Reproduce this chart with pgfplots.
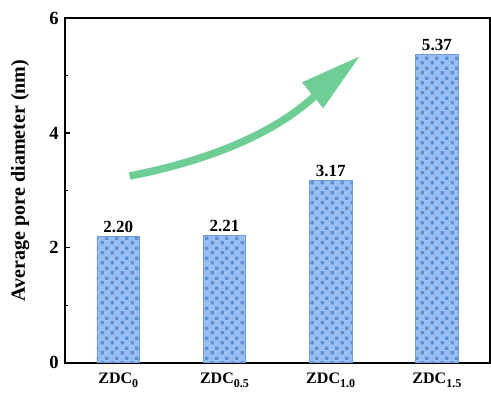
\documentclass[border=0pt]{standalone}
\usepackage{pgfplots}
\pgfplotsset{compat=1.18}
\usepackage{fontspec}
\setmainfont{Liberation Serif}
\usetikzlibrary{patterns}

\definecolor{barfill}{RGB}{152,190,242}
\definecolor{barsq}{RGB}{92,146,212}
\definecolor{baredge}{RGB}{110,155,220}
\definecolor{arrowgreen}{RGB}{110,206,150}

% lowered subscript for the sample names
\newcommand{\sub}[1]{\raisebox{-3.5pt}{\fontsize{12}{12}\selectfont #1}}

% offset grid of small squares laid over the bar fill
\pgfdeclarepatternformonly{squaregrid}{\pgfpointorigin}{\pgfqpoint{10pt}{10pt}}{\pgfqpoint{10pt}{10pt}}{%
  \pgfpathrectangle{\pgfqpoint{0.6pt}{0.6pt}}{\pgfqpoint{3.6pt}{3.6pt}}%
  \pgfpathrectangle{\pgfqpoint{5.6pt}{5.6pt}}{\pgfqpoint{3.6pt}{3.6pt}}%
  \pgfusepath{fill}}

\begin{document}
\begin{tikzpicture}
\begin{axis}[
  scale only axis,
  width=424pt, height=344pt,
  xmin=-0.5, xmax=3.5,
  ymin=0, ymax=6,
  axis line style={line width=2.2pt},
  xtick={0,1,2,3},
  xticklabels={ZDC\sub{0},ZDC\sub{0.5},ZDC\sub{1.0},ZDC\sub{1.5}},
  xtick style={draw=none},
  ytick={0,2,4,6},
  minor ytick={1,3,5},
  ytick pos=left,
  xtick pos=bottom,
  tick align=inside,
  major tick length=5pt,
  minor tick length=3pt,
  every tick/.style={black, line width=1.2pt},
  /pgf/number format/assume math mode=true,
  yticklabel style={font=\fontsize{18.5}{20}\selectfont\bfseries, xshift=-3pt},
  xticklabel style={font=\fontsize{16}{18}\selectfont\bfseries, yshift=-2pt, anchor=north},
  ylabel={Average pore diameter (nm)},
  % shifts act in the rotated frame: xshift moves up, yshift moves left
  every axis y label/.style={at={(axis description cs:0,0.5)}, rotate=90, anchor=center,
    yshift=45pt, xshift=10pt, font=\fontsize{20}{22}\selectfont\bfseries},
  ybar, bar width=0.4,
  nodes near coords,
  nodes near coords style={font=\fontsize{17}{19}\selectfont\bfseries, /pgf/number format/.cd, fixed, fixed zerofill, precision=2},
  clip=false,
]
\addplot[draw=baredge, line width=0.6pt, fill=barfill,
  postaction={pattern=squaregrid, pattern color=barsq}]
  coordinates {(0,2.20) (1,2.21) (2,3.17) (3,5.37)};

% curved trend arrow
\draw[arrowgreen, line width=7.5pt]
  (axis cs:0.107,3.25) .. controls (axis cs:0.80,3.50) and (axis cs:1.45,3.95) .. (axis cs:1.86,4.66);
\fill[arrowgreen] (axis cs:2.27,5.33) -- (axis cs:1.73,4.88) -- (axis cs:1.93,4.43) -- cycle;
\end{axis}
\pgfresetboundingbox
\path[use as bounding box] (current axis.south west) ++(-65pt,-32pt) rectangle (current axis.north east) ++(1pt,18pt);
\end{tikzpicture}
\end{document}
